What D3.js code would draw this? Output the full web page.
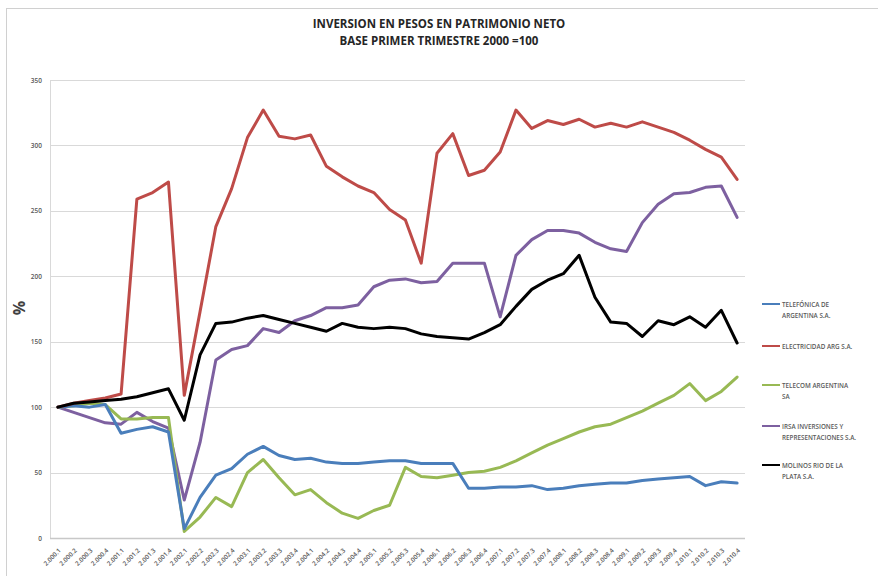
<!DOCTYPE html>
<html>
<head>
<meta charset="utf-8">
<script src="https://cdn.jsdelivr.net/npm/d3@7"></script>
<style>
  html, body { margin: 0; padding: 0; background: #fff; }
  svg { display: block; }
</style>
</head>
<body>
<svg id="chart" width="878" height="576"></svg>
<script>
const categories = [
  "2.000.1","2.000.2","2.000.3","2.000.4",
  "2.001.1","2.001.2","2.001.3","2.001.4",
  "2.002.1","2.002.2","2.002.3","2.002.4",
  "2.003.1","2.003.2","2.003.3","2.003.4",
  "2.004.1","2.004.2","2.004.3","2.004.4",
  "2.005.1","2.005.2","2.005.3","2.005.4",
  "2.006.1","2.006.2","2.006.3","2.006.4",
  "2.007.1","2.007.2","2.007.3","2.007.4",
  "2.008.1","2.008.2","2.008.3","2.008.4",
  "2.009.1","2.009.2","2.009.3","2.009.4",
  "2.010.1","2.010.2","2.010.3","2.010.4"
];

const telefonica = [100,101,100,102, 80,83,85,81, 7,31,48,53, 64,70,63,60, 61,58,57,57, 58,59,59,57, 57,57,38,38, 39,39,40,37, 38,40,41,42, 42,44,45,46, 47,40,43,42];
const electricidad = [100,103,105,107, 110,259,264,272, 109,173,238,267, 306,327,307,305, 308,284,276,269, 264,251,243,210, 294,309,277,281, 295,327,313,319, 316,320,314,317, 314,318,314,310, 304,297,291,274];
const telecom = [100,101,103,102, 91,91,92,92, 5,16,31,24, 50,60,46,33, 37,27,19,15, 21,25,54,47, 46,48,50,51, 54,59,65,71, 76,81,85,87, 92,97,103,109, 118,105,112,123];
const irsa = [100,96,92,88, 87,96,89,84, 29,73,136,144, 147,160,157,166, 170,176,176,178, 192,197,198,195, 196,210,210,210, 169,216,228,235, 235,233,226,221, 219,241,255,263, 264,268,269,245];
const molinos = [100,103,104,105, 106,108,111,114, 90,140,164,165, 168,170,167,164, 161,158,164,161, 160,161,160,156, 154,153,152,157, 163,177,190,197, 202,216,184,165, 164,154,166,163, 169,161,174,149];

const seriesNames = [
  ["TELEFÓNICA DE", "ARGENTINA S.A."],
  ["ELECTRICIDAD ARG S.A."],
  ["TELECOM ARGENTINA", "SA"],
  ["IRSA INVERSIONES Y", "REPRESENTACIONES S.A."],
  ["MOLINOS RIO DE LA", "PLATA S.A."]
];
const seriesValues = [telefonica, electricidad, telecom, irsa, molinos];
const seriesColors = ["#4A7EBB", "#BE4B48", "#98B954", "#7D60A0", "#000000"];

const yTicks = [0, 50, 100, 150, 200, 250, 300, 350];
const titleLines = ["INVERSION EN PESOS EN PATRIMONIO NETO", "BASE PRIMER TRIMESTRE 2000 =100"];

const svg = d3.select("#chart");
const font = "'Open Sans', 'Liberation Sans', sans-serif";

// outer chart border
svg.append("rect")
  .attr("x", 6.5).attr("y", 8.5).attr("width", 900).attr("height", 600)
  .attr("fill", "none").attr("stroke", "#d0d0d0").attr("stroke-width", 1);

const plot = { left: 50, right: 745, top: 80, bottom: 538 };

const x = d3.scalePoint().domain(categories).range([plot.left, plot.right]).padding(0.5);
const y = d3.scaleLinear().domain([0, 350]).range([plot.bottom, plot.top]);

// grid lines
svg.append("g").selectAll("line").data(yTicks.filter(d => d > 0)).join("line")
  .attr("x1", plot.left).attr("x2", plot.right)
  .attr("y1", d => Math.round(y(d)) + 0.5).attr("y2", d => Math.round(y(d)) + 0.5)
  .attr("stroke", "#d9d9d9").attr("stroke-width", 1);

// left axis line
svg.append("line")
  .attr("x1", plot.left + 0.5).attr("x2", plot.left + 0.5)
  .attr("y1", plot.top).attr("y2", plot.bottom)
  .attr("stroke", "#d9d9d9");

// bottom axis
svg.append("line")
  .attr("x1", plot.left).attr("x2", plot.right)
  .attr("y1", plot.bottom + 0.5).attr("y2", plot.bottom + 0.5)
  .attr("stroke", "#c8c8c8").attr("stroke-width", 1.5);

// y tick labels
const yAxis = d3.axisLeft(y).tickValues(yTicks).tickSize(0).tickPadding(0);
const yg = svg.append("g").attr("transform", `translate(${plot.left - 8},0)`).call(yAxis);
yg.select(".domain").remove();
yg.selectAll("text").attr("font-family", font).attr("font-size", 6.5)
  .attr("fill", "#595959").attr("font-weight", "600");

// x tick labels
const xAxis = d3.axisBottom(x).tickSize(0).tickPadding(0);
const xg = svg.append("g").attr("transform", `translate(0,${plot.bottom})`).call(xAxis);
xg.select(".domain").remove();
xg.selectAll("text")
  .attr("font-family", font).attr("font-size", 6.3).attr("font-weight", "600")
  .attr("fill", "#595959")
  .attr("text-anchor", "end")
  .attr("dy", 0).attr("y", 0)
  .attr("transform", "translate(3,13) rotate(-45)");

// % label
svg.append("text")
  .attr("transform", "translate(25,308) rotate(-90)")
  .attr("text-anchor", "middle")
  .attr("font-family", font).attr("font-size", 16).attr("font-weight", "700")
  .attr("fill", "#404040")
  .text("%");

// title
svg.append("g").selectAll("text").data(titleLines).join("text")
  .attr("x", 439).attr("y", (d, i) => 28 + i * 17)
  .attr("text-anchor", "middle")
  .attr("font-family", font).attr("font-size", 11.5).attr("font-weight", "700")
  .attr("fill", "#262626")
  .text(d => d);

// lines
const line = d3.line().x((d, i) => x(categories[i])).y(d => y(d));
const order = [3, 2, 0, 1, 4];
svg.append("g").selectAll("path").data(order).join("path")
  .attr("d", k => line(seriesValues[k]))
  .attr("fill", "none")
  .attr("stroke", k => seriesColors[k])
  .attr("stroke-width", 3)
  .attr("stroke-linejoin", "round")
  .attr("stroke-linecap", "round");

// legend
const legendY = [304, 346, 385, 426, 465];
const lg = svg.append("g");
seriesNames.forEach((lines, k) => {
  const g = lg.append("g").attr("transform", `translate(762,${legendY[k]})`);
  g.append("line").attr("x1", 0).attr("x2", 18).attr("y1", 0).attr("y2", 0)
    .attr("stroke", seriesColors[k]).attr("stroke-width", 2);
  lines.forEach((t, j) => {
    g.append("text").attr("x", 20).attr("y", 2.5 + j * 11)
      .attr("font-family", font).attr("font-size", 6.3).attr("font-weight", "600")
      .attr("fill", "#595959").text(t);
  });
});
</script>
</body>
</html>
